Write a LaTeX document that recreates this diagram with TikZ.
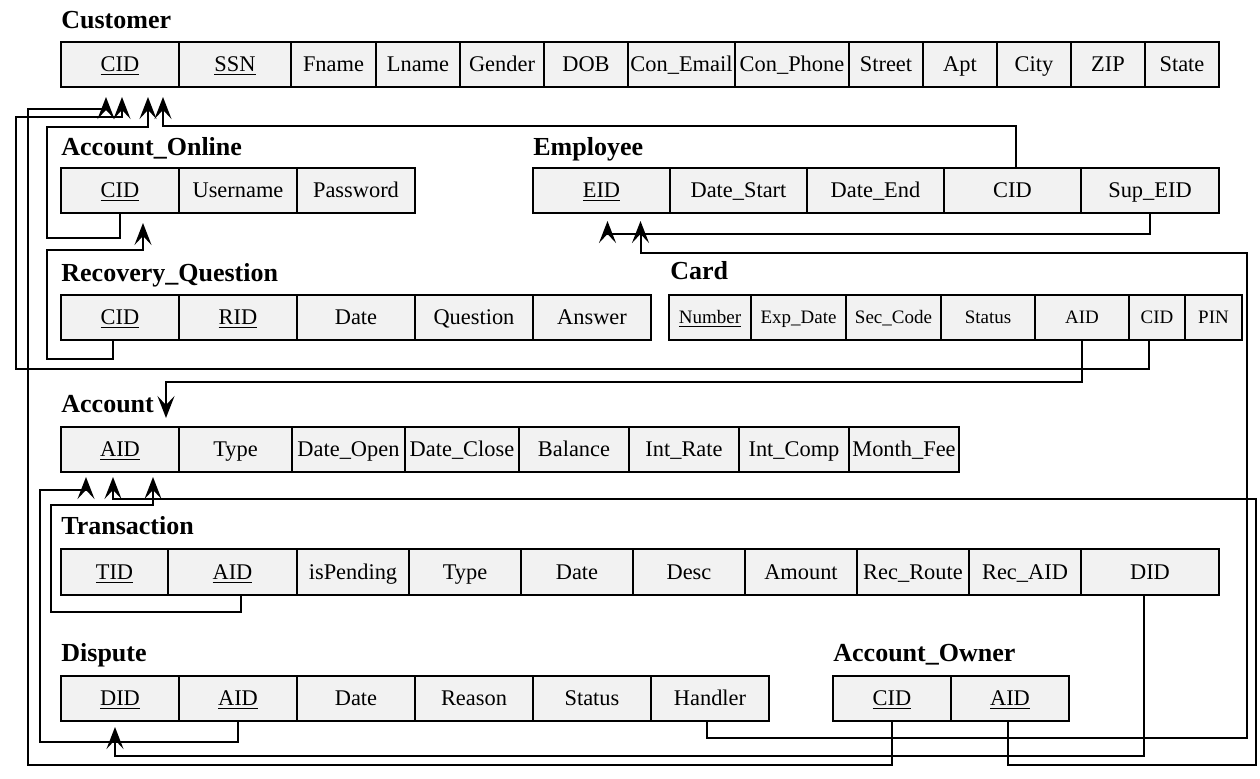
\documentclass[tikz,border=0pt]{standalone}
\usepackage{fontspec}
\setmainfont{Liberation Serif}
\usetikzlibrary{arrows.meta,calc}
\definecolor{cellgray}{HTML}{F2F2F2}
\tikzset{
  cell/.style={draw=black, fill=cellgray, line width=1pt, inner sep=0pt, outer sep=0pt,
    font=\fontsize{11.2}{13}\selectfont, text height=9.5pt, text depth=2.3pt},
  smallcell/.style={font=\fontsize{9.5}{11}\selectfont, text height=8pt, text depth=1.7pt},
  ttl/.style={anchor=base west, inner sep=0pt, font=\bfseries\fontsize{13}{15}\selectfont},
  fk/.style={draw=black, line width=1pt, -{Stealth[length=11pt,width=8.5pt,inset=4.5pt]}},
}
\newcommand\tablerow[5][]{%
  \foreach \n/\a/\b/\t in {#5}{%
    \pgfmathsetmacro\cw{(\b-\a)*0.5}%
    \pgfmathsetmacro\ch{(#4-#3)*0.5}%
    \node[cell,#1, minimum width=\cw pt, minimum height=\ch pt] (#2-\n) at ({(\a+\b)/2},{(#3+#4)/2}) {\t};
  }%
}
\begin{document}
\begin{tikzpicture}[x=0.5pt,y=-0.5pt]
\useasboundingbox (0,0) rectangle (1260,778);

% Titles
\node[ttl] (t-cu) at (61,28) {Customer};
\node[ttl] (t-aon) at (61,155) {Account\_Online};
\node[ttl] (t-emp) at (533,155) {Employee};
\node[ttl] (t-rq) at (61,281) {Recovery\_Question};
\node[ttl] (t-card) at (670,279) {Card};
\node[ttl] (t-ac) at (61,412) {Account};
\node[ttl] (t-tr) at (61,534) {Transaction};
\node[ttl] (t-dis) at (61,661) {Dispute};
\node[ttl] (t-aow) at (833,661) {Account\_Owner};

% Customer
\tablerow{cu}{42}{87}{cid/61/179/{\underline{CID}}, ssn/179/291/{\underline{SSN}}, fname/291/376/Fname, lname/376/460/Lname, gender/460/544/Gender, dob/544/628/DOB, email/628/735/Con\_Email, phone/735/849/Con\_Phone, street/849/923/Street, apt/923/997/Apt, city/997/1071/City, zip/1071/1145/ZIP, state/1145/1219/State}

% Account_Online
\tablerow{aon}{168}{213}{cid/61/179/{\underline{CID}}, user/179/297/Username, pass/297/415/Password}

% Employee
\tablerow{emp}{168}{213}{eid/533/670/{\underline{EID}}, start/670/807/Date\_Start, end/807/944/Date\_End, cid/944/1081/CID, sup/1081/1219/Sup\_EID}

% Recovery_Question
\tablerow{rq}{295}{340}{cid/61/179/{\underline{CID}}, rid/179/297/{\underline{RID}}, date/297/415/Date, quest/415/533/Question, ans/533/651/Answer}

% Card
\tablerow[smallcell]{card}{295}{340}{num/669/751/{\underline{Number}}, exp/751/846/Exp\_Date, sec/846/941/Sec\_Code, status/941/1035/Status, aid/1035/1129/AID, cid/1129/1185/CID, pin/1185/1242/PIN}

% Account
\tablerow{ac}{427}{472}{aid/61/179/{\underline{AID}}, type/179/292/Type, open/292/405/Date\_Open, close/405/519/Date\_Close, bal/519/629/Balance, rate/629/739/Int\_Rate, comp/739/849/Int\_Comp, fee/849/959/Month\_Fee}

% Transaction
\tablerow{tr}{549}{595}{tid/61/168/{\underline{TID}}, aid/168/297/{\underline{AID}}, pend/297/409/isPending, type/409/521/Type, date/521/633/Date, desc/633/745/Desc, amt/745/857/Amount, route/857/969/Rec\_Route, raid/969/1081/Rec\_AID, did/1081/1219/DID}

% Dispute
\tablerow{dis}{676}{721}{did/61/179/{\underline{DID}}, aid/179/297/{\underline{AID}}, date/297/415/Date, reason/415/533/Reason, status/533/651/Status, hand/651/769/Handler}

% Account_Owner
\tablerow{aow}{676}{721}{cid/833/951/{\underline{CID}}, aid/951/1069/{\underline{AID}}}

% Connectors to Customer.CID
\draw[fk] ($(card-cid.south)+(-8,0)$) -- ++(0,29) -| (16,117) -| ($(cu-cid.south)+(2,10)$);
\draw[fk] (aow-cid.south) -- ++(0,44) -| (28,109) -| ($(cu-cid.south)+(-14,10)$);
\draw[fk] (aon-cid.south) -- ++(0,25) -| (47,127) -| ($(cu-cid.south)+(28,10)$);
\draw[fk] ($(emp-cid.north)+(3,0)$) -- ++(0,-42) -| ($(cu-cid.south)+(43,10)$);

% Recovery_Question.CID -> Account_Online.CID
\draw[fk] ($(rq-cid.south)+(-7,0)$) -- ++(0,19) -| (47,250) -| ($(aon-cid.south)+(23,10)$);

% Employee references
\draw[fk] (emp-sup.south) -- ++(0,21) -| ($(emp-eid.south)+(6,8)$);
\draw[fk] ($(dis-hand.south)+(-3,0)$) -- ++(0,17) -| (1247,253) -| ($(emp-eid.south)+(39,8)$);

% Account references
\draw[fk] (card-aid.south) -- ++(0,42) -| ($(ac-aid.north)+(46,-9)$);
\draw[fk] (dis-aid.south) -- ++(0,21) -| (40,490) -| ($(ac-aid.south)+(-34,5)$);
\draw[fk] ($(aow-aid.south)+(-2,0)$) -- ++(0,44) -| (1256,499) -| ($(ac-aid.south)+(-7,5)$);
\draw[fk] ($(tr-aid.south)+(8,0)$) -- ++(0,17) -| (51,505) -| ($(ac-aid.south)+(33,5)$);

% Transaction.DID -> Dispute.DID
\draw[fk] ($(tr-did.south)+(-6,0)$) -- ++(0,161) -| ($(dis-did.south)+(-5,6)$);
\end{tikzpicture}
\end{document}
